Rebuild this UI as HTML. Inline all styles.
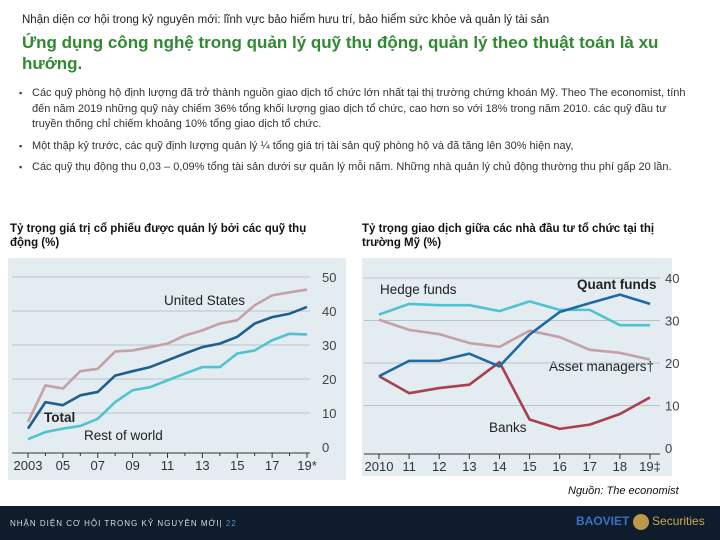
<!DOCTYPE html>
<html><head><meta charset="utf-8"><style>
body{margin:0;width:720px;height:540px;position:relative;background:#fff;font-family:"Liberation Sans","Noto Sans CJK SC",sans-serif;overflow:hidden}
.abs{position:absolute}
#sup{left:22px;top:14px;font-size:11.5px;color:#222}
#title{left:22px;top:32px;width:680px;font-size:17px;font-weight:bold;color:#2f8a2f;line-height:21px}
ul{position:absolute;left:18px;top:86px;width:660px;margin:0;padding:0 0 0 14px;font-size:11px;color:#333;line-height:15.5px;list-style:none}
li{margin-bottom:6px;position:relative}
li:before{content:"▪";position:absolute;left:-13px;font-size:9px}
.ct{font-size:11.5px;font-weight:bold;color:#111;line-height:14px}
#footer{left:0;top:506px;width:720px;height:34px;background:#0f1c2c}
svg text{font-family:"Liberation Sans",sans-serif}
</style></head><body>
<div class="abs" id="sup">Nhận diện cơ hội trong kỷ nguyên mới: lĩnh vực bảo hiểm hưu trí, bảo hiểm sức khỏe và quản lý tài sản</div>
<div class="abs" id="title">Ứng dụng công nghệ trong quản lý quỹ thụ động, quản lý theo thuật toán là xu hướng.</div>
<ul>
<li>Các quỹ phòng hộ định lượng đã trở thành nguồn giao dịch tổ chức lớn nhất tại thị trường chứng khoán Mỹ. Theo The economist, tính đến năm 2019 những quỹ này chiếm 36% tổng khối lượng giao dịch tổ chức, cao hơn so với 18% trong năm 2010. các quỹ đầu tư truyền thống chỉ chiếm khoảng 10% tổng giao dịch tổ chức.</li>
<li>Một thập kỷ trước, các quỹ định lượng quản lý ¼ tổng giá trị tài sản quỹ phòng hộ và đã tăng lên 30% hiện nay,</li>
<li>Các quỹ thụ động thu 0,03 – 0,09% tổng tài sản dưới sự quản lý mỗi năm. Những nhà quản lý chủ động thường thu phí gấp 20 lần.</li>
</ul>
<div class="abs ct" style="left:10px;top:222px;width:300px">Tỷ trọng giá trị cổ phiếu được quản lý bởi các quỹ thụ động (%)</div>
<div class="abs ct" style="left:362px;top:222px;width:300px">Tỷ trọng giao dịch giữa các nhà đầu tư tổ chức tại thị trường Mỹ (%)</div>
<svg class="abs" style="left:0;top:0" width="720" height="540" id="charts">
<rect x="8" y="258" width="338" height="222" fill="#e3ecf1"/>
<rect x="362" y="258" width="310" height="218" fill="#e3ecf1"/>
<g id="L"></g><g id="R"></g>
</svg>
<div class="abs" style="left:568px;top:485px;font-size:11px;font-style:italic;color:#111">Nguồn: The economist</div>
<div class="abs" id="footer">
<div class="abs" style="left:10px;top:13px;font-size:8px;color:#ddd;letter-spacing:1px">NHẬN DIỆN CƠ HỘI TRONG KỶ NGUYÊN MỚI| <span style="color:#4a8fd9">22</span></div>
<div class="abs" style="left:576px;top:8px;font-size:12px;font-weight:bold;color:#3a6fc4">BAOVIET <span style="display:inline-block;width:16px;height:16px;border-radius:8px;background:#b89a4a;vertical-align:middle"></span> <span style="color:#c9a94e;font-weight:normal">Securities</span></div>
</div>
<script>
const lYears=["2003","","05","","07","","09","","11","","13","","15","","17","","19*"];
const lUS=[7.4,18.1,17.2,22.3,23,28.1,28.4,29.4,30.4,32.8,34.3,36.3,37.3,41.7,44.6,45.5,46.3];
const lTotal=[5.4,13.2,12.3,15.2,16.2,21,22.3,23.5,25.5,27.5,29.4,30.4,32.4,36.3,38.2,39.2,41.2];
const lRest=[2.3,4.4,5.4,6.2,8.3,13.2,16.7,17.6,19.6,21.6,23.5,23.5,27.5,28.4,31.4,33.3,33.1];
const lTicks=[0,10,20,30,40,50];
const rYears=["2010","11","12","13","14","15","16","17","18","19‡"];
const rHedge=[31.4,33.9,33.6,33.6,32.2,34.5,32.5,32.5,28.9,28.9];
const rQuant=[16.9,20.5,20.5,22.2,19.2,26.7,32,34.1,36.1,33.9];
const rAsset=[30.2,27.8,26.8,24.7,23.8,27.6,26.1,23.1,22.4,20.8];
const rBanks=[16.9,12.9,14.1,14.9,20.2,6.7,4.5,5.5,8,11.9];
const rTicks=[0,10,20,30,40];
const NS="http://www.w3.org/2000/svg";
function mk(g,t,a){const e=document.createElementNS(NS,t);for(const k in a)e.setAttribute(k,a[k]);g.appendChild(e);return e;}
function chart(gid,years,series,ticks,xa,xb,y0,yTop,vmax,gx0,gx1,lblX){
 const g=document.getElementById(gid);
 const x=i=>xa+(xb-xa)*i/(years.length-1), y=v=>y0-(y0-yTop)*v/vmax;
 ticks.forEach(t=>{
  if(t>0){const l=mk(g,"line",{x1:gx0,x2:gx1,y1:y(t),y2:y(t),stroke:"#b8c4cc","stroke-width":1});
  
  }
  const tx=mk(g,"text",{x:lblX,y:y(t)+5,"font-size":13,fill:"#444"});tx.textContent=t;
  
  
 });
 const ax=mk(g,"line",{x1:gx0,x2:gx1,y1:y0+6,y2:y0+6,stroke:"#333","stroke-width":1});
 
 
 years.forEach((yr,i)=>{
  const tk=mk(g,"line",{x1:x(i),x2:x(i),y1:y0+6,y2:y0+(yr?11:9),stroke:"#333"});
  
  
  if(yr){const tx=mk(g,"text",{x:x(i),y:y0+23,"font-size":13,fill:"#333","text-anchor":"middle"});tx.textContent=yr;
  
  }
 });
 series.forEach(s=>{
  const p=mk(g,"polyline",{points:s.d.map((v,i)=>x(i)+","+y(v)).join(" "),fill:"none",stroke:s.c,"stroke-width":2.6,"stroke-linejoin":"round"});
  
  
 });
}
chart("L",lYears,[{d:lUS,c:"#c4a1a6",n:"line-united-states"},{d:lRest,c:"#4fc3cf",n:"line-rest-of-world"},{d:lTotal,c:"#1f5f8e",n:"line-total"}],lTicks,28,307,447,277,50,12,310,322);
chart("R",rYears,[{d:rHedge,c:"#4fc3cf",n:"line-hedge-funds"},{d:rAsset,c:"#c4a1a6",n:"line-asset-managers"},{d:rBanks,c:"#a8404e",n:"line-banks"},{d:rQuant,c:"#1f6aa0",n:"line-quant-funds"}],rTicks,379,650,448,278,40,364,660,665);
const labels=[["United States",164,305,false],["Total",44,422,true],["Rest of world",84,440,false],["Hedge funds",380,294,false],["Quant funds",577,289,true],["Asset managers†",549,371,false],["Banks",489,432,false]];
const LG=document.getElementById("L");
labels.forEach(l=>{const t=mk(LG,"text",{x:l[1],y:l[2],"font-size":13.5,fill:"#222","font-weight":l[3]?"bold":"normal"});t.textContent=l[0];
 
 });
</script>
</body></html>
